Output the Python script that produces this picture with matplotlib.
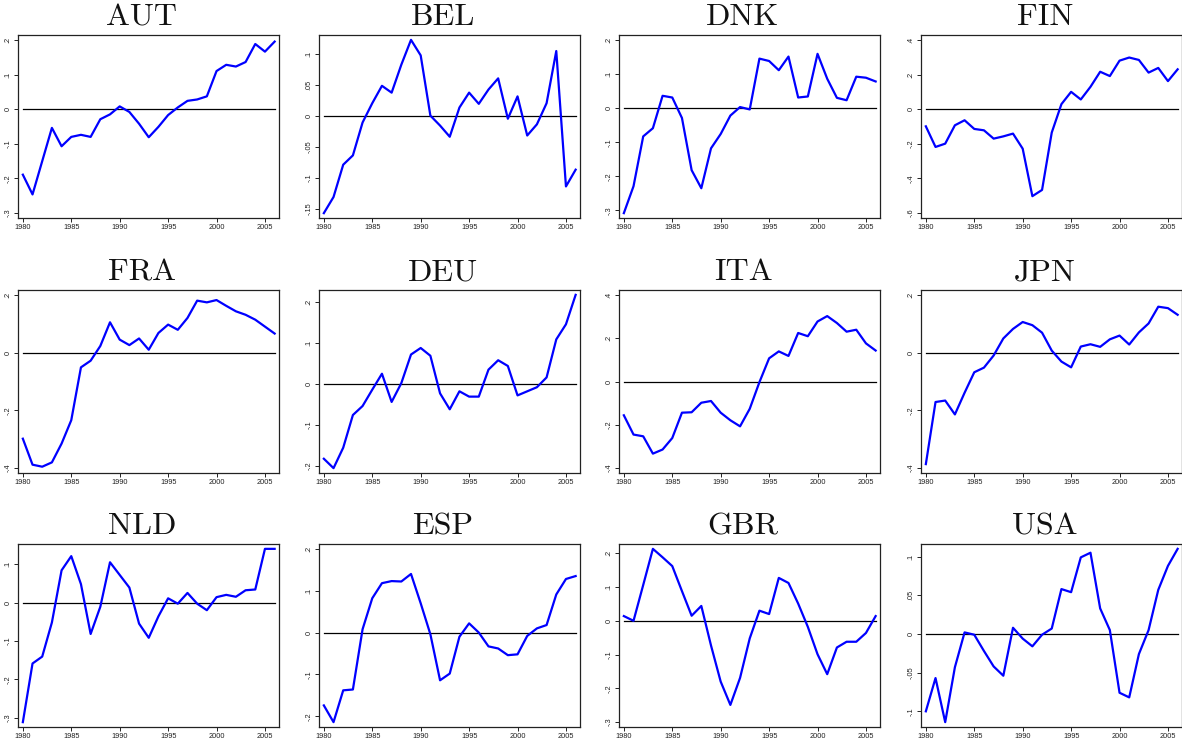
import matplotlib
matplotlib.use('Agg')
import matplotlib.pyplot as plt

years = list(range(1980, 2007))
xticks = [1980, 1985, 1990, 1995, 2000, 2005]
xtick_labels = ['1980', '1985', '1990', '1995', '2000', '2005']

countries = ['AUT', 'BEL', 'DNK', 'FIN', 'FRA', 'DEU', 'ITA', 'JPN', 'NLD', 'ESP', 'GBR', 'USA']

aut = [-0.189, -0.246, -0.150, -0.054, -0.107, -0.080, -0.074, -0.080, -0.029, -0.015,
       0.008, -0.008, -0.042, -0.081, -0.051, -0.017, 0.005, 0.024, 0.028, 0.037,
       0.110, 0.128, 0.123, 0.136, 0.188, 0.166, 0.195]
bel = [-0.157, -0.131, -0.079, -0.064, -0.011, 0.020, 0.048, 0.037, 0.082, 0.122,
       0.097, 0.000, -0.016, -0.034, 0.013, 0.037, 0.019, 0.042, 0.060, -0.005,
       0.031, -0.032, -0.014, 0.020, 0.104, -0.114, -0.087]
dnk = [-0.308, -0.229, -0.083, -0.059, 0.036, 0.031, -0.029, -0.182, -0.235, -0.118,
       -0.076, -0.022, 0.003, -0.004, 0.145, 0.138, 0.111, 0.151, 0.031, 0.034,
       0.159, 0.086, 0.030, 0.023, 0.092, 0.089, 0.078]
fin = [-0.099, -0.218, -0.199, -0.093, -0.064, -0.114, -0.122, -0.170, -0.157, -0.141,
       -0.228, -0.502, -0.466, -0.135, 0.029, 0.100, 0.056, 0.129, 0.216, 0.191,
       0.280, 0.298, 0.284, 0.211, 0.238, 0.162, 0.230]
fra = [-0.298, -0.388, -0.395, -0.380, -0.315, -0.234, -0.051, -0.028, 0.023, 0.105,
       0.045, 0.026, 0.049, 0.010, 0.068, 0.097, 0.079, 0.120, 0.180, 0.174,
       0.182, 0.162, 0.143, 0.131, 0.114, 0.090, 0.066]
deu = [-0.183, -0.206, -0.156, -0.076, -0.054, -0.014, 0.025, -0.044, 0.002, 0.072,
       0.088, 0.069, -0.023, -0.062, -0.018, -0.031, -0.031, 0.035, 0.058, 0.044,
       -0.028, -0.018, -0.008, 0.016, 0.109, 0.146, 0.218]
ita = [-0.156, -0.245, -0.253, -0.333, -0.314, -0.261, -0.144, -0.142, -0.098, -0.090,
       -0.144, -0.179, -0.207, -0.126, -0.003, 0.107, 0.139, 0.118, 0.224, 0.209,
       0.277, 0.302, 0.270, 0.230, 0.239, 0.176, 0.143]
jpn = [-0.386, -0.171, -0.166, -0.214, -0.139, -0.068, -0.052, -0.010, 0.049, 0.082,
       0.106, 0.095, 0.069, 0.007, -0.031, -0.051, 0.021, 0.029, 0.020, 0.046,
       0.059, 0.028, 0.070, 0.101, 0.159, 0.154, 0.131]
nld = [-0.312, -0.159, -0.141, -0.052, 0.084, 0.121, 0.048, -0.082, -0.011, 0.105,
       0.072, 0.039, -0.055, -0.092, -0.036, 0.011, -0.003, 0.025, -0.003, -0.020,
       0.014, 0.020, 0.015, 0.032, 0.034, 0.140, 0.140]
esp = [-0.174, -0.214, -0.138, -0.136, 0.008, 0.082, 0.118, 0.123, 0.122, 0.140,
       0.070, -0.004, -0.114, -0.098, -0.010, 0.022, 0.000, -0.033, -0.038, -0.054,
       -0.052, -0.008, 0.010, 0.018, 0.091, 0.128, 0.135]
gbr = [0.014, 0.000, 0.106, 0.213, 0.188, 0.162, 0.088, 0.015, 0.044, -0.073,
       -0.180, -0.249, -0.169, -0.052, 0.030, 0.020, 0.127, 0.112, 0.051, -0.018,
       -0.099, -0.158, -0.079, -0.062, -0.062, -0.036, 0.014]
usa = [-0.100, -0.057, -0.114, -0.043, 0.002, -0.001, -0.022, -0.042, -0.054, 0.008,
       -0.006, -0.016, -0.001, 0.007, 0.058, 0.054, 0.099, 0.105, 0.033, 0.005,
       -0.076, -0.082, -0.026, 0.005, 0.057, 0.088, 0.110]

yticks_aut = [-0.3, -0.2, -0.1, 0, 0.1, 0.2]
ylabels_aut = ['-.3', '-.2', '-.1', '0', '.1', '.2']
yticks_bel = [-0.15, -0.1, -0.05, 0, 0.05, 0.1]
ylabels_bel = ['-.15', '-.1', '-.05', '0', '.05', '.1']
yticks_dnk = [-0.3, -0.2, -0.1, 0, 0.1, 0.2]
ylabels_dnk = ['-.3', '-.2', '-.1', '0', '.1', '.2']
yticks_fin = [-0.6, -0.4, -0.2, 0, 0.2, 0.4]
ylabels_fin = ['-.6', '-.4', '-.2', '0', '.2', '.4']
yticks_fra = [-0.4, -0.2, 0, 0.2]
ylabels_fra = ['-.4', '-.2', '0', '.2']
yticks_deu = [-0.2, -0.1, 0, 0.1, 0.2]
ylabels_deu = ['-.2', '-.1', '0', '.1', '.2']
yticks_ita = [-0.4, -0.2, 0, 0.2, 0.4]
ylabels_ita = ['-.4', '-.2', '0', '.2', '.4']
yticks_jpn = [-0.4, -0.2, 0, 0.2]
ylabels_jpn = ['-.4', '-.2', '0', '.2']
yticks_nld = [-0.3, -0.2, -0.1, 0, 0.1]
ylabels_nld = ['-.3', '-.2', '-.1', '0', '.1']
yticks_esp = [-0.2, -0.1, 0, 0.1, 0.2]
ylabels_esp = ['-.2', '-.1', '0', '.1', '.2']
yticks_gbr = [-0.3, -0.2, -0.1, 0, 0.1, 0.2]
ylabels_gbr = ['-.3', '-.2', '-.1', '0', '.1', '.2']
yticks_usa = [-0.1, -0.05, 0, 0.05, 0.1]
ylabels_usa = ['-.1', '-.05', '0', '.05', '.1']

series = [aut, bel, dnk, fin, fra, deu, ita, jpn, nld, esp, gbr, usa]
yticks_all = [yticks_aut, yticks_bel, yticks_dnk, yticks_fin, yticks_fra, yticks_deu,
              yticks_ita, yticks_jpn, yticks_nld, yticks_esp, yticks_gbr, yticks_usa]
ylabels_all = [ylabels_aut, ylabels_bel, ylabels_dnk, ylabels_fin, ylabels_fra, ylabels_deu,
               ylabels_ita, ylabels_jpn, ylabels_nld, ylabels_esp, ylabels_gbr, ylabels_usa]

W, H = 1182, 738
fig = plt.figure(figsize=(W / 100, H / 100), dpi=100)
fig.patch.set_facecolor('white')

lefts = [18, 319, 619, 921]
tops = [35, 290, 544]
aw, ah = 261, 183

tick_font = 'Liberation Sans'

for i, (name, vals, yt, yl) in enumerate(zip(countries, series, yticks_all, ylabels_all)):
    r, c = divmod(i, 4)
    left = lefts[c] / W
    bottom = (H - tops[r] - ah) / H
    ax = fig.add_axes([left, bottom, aw / W, ah / H])
    ax.plot(years, [0] * len(years), color='black', lw=0.9, zorder=2)
    ax.plot(years, vals, color='#0000ff', lw=1.6, zorder=3)
    lo = min(min(vals), min(yt))
    hi = max(max(vals), max(yt))
    pad = (hi - lo) * 0.028
    ax.set_ylim(lo - pad, hi + pad)
    ax.set_xlim(1979.5, 2006.45)
    ax.set_xticks(xticks)
    ax.set_xticklabels(xtick_labels, fontsize=5.3, family=tick_font, color='#2a2a2a')
    ax.set_yticks(yt)
    ax.set_yticklabels(yl, fontsize=5.3, family=tick_font, color='#2a2a2a',
                       rotation=90, va='center')
    ax.tick_params(axis='both', direction='out', length=3, width=0.7, pad=1.5,
                   colors='#222222', top=False, right=False)
    for s in ax.spines.values():
        s.set_linewidth(0.9)
        s.set_color('#222222')
    ax.set_title(name, fontsize=23, family='cmr10', pad=7, color='#111111', x=0.475)

fig.savefig('out.png', dpi=100, facecolor='white')
